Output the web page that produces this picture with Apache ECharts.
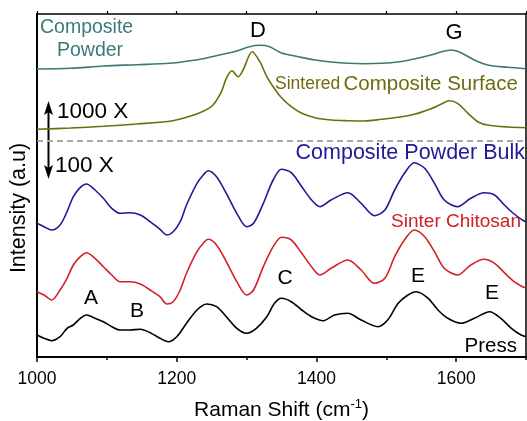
<!DOCTYPE html>
<html>
<head>
<meta charset="utf-8">
<script src="https://cdn.jsdelivr.net/npm/echarts@6/dist/echarts.min.js"></script>
<style>
  html, body { margin: 0; padding: 0; background: #fff; }
  #chart { width: 527px; height: 421px; }
</style>
</head>
<body>
<div id="chart"></div>
<script>
// tick values on the Raman shift axis
const xMajorTicks = [1000, 1200, 1400, 1600];
const xMinorTicks = [1100, 1300, 1500, 1700];

// spectra, [raman shift, intensity (offset, a.u.)]
const compositePowder = [
  [1000, 288], [1048, 288.7], [1095, 291], [1143, 292.3], [1190, 293.7], [1214, 295.7],
  [1238, 298.3], [1261, 302], [1286, 306], [1304, 310.3], [1319, 311.7], [1333, 310.3],
  [1350, 304], [1374, 300.3], [1398, 297], [1421, 295], [1445, 293.7], [1469, 293.3],
  [1493, 293.7], [1517, 295], [1540, 298], [1564, 302], [1579, 305.3], [1593, 307],
  [1607, 304.3], [1626, 297], [1645, 292], [1674, 289.7], [1700, 288.3]
];
const sinteredSurface = [
  [1000, 227.7], [1048, 229], [1095, 230.7], [1143, 233], [1190, 235.7], [1214, 239.7],
  [1238, 245.7], [1252, 252], [1264, 265.3], [1271, 278.7], [1279, 286.3], [1288, 280.3],
  [1295, 287], [1308, 305.3], [1319, 295.3], [1329, 280.3], [1338, 270.3], [1350, 259.3],
  [1364, 250.3], [1379, 243.7], [1398, 239.3], [1421, 237], [1445, 236.3], [1469, 236],
  [1493, 237.7], [1517, 239.7], [1540, 242.7], [1564, 248.3], [1579, 253], [1590, 256.3],
  [1602, 253.7], [1617, 243.7], [1631, 235.3], [1645, 232], [1674, 230], [1700, 229.3]
];
const powderBulk = [
  [1000, 133.7], [1010, 130.3], [1021, 127], [1033, 132], [1043, 145.3], [1052, 160.3],
  [1062, 169.7], [1071, 173], [1083, 167], [1095, 158.7], [1107, 148.7], [1119, 143.7],
  [1133, 144.3], [1148, 142], [1162, 135.3], [1176, 127.7], [1186, 122], [1195, 125.3],
  [1205, 135.3], [1214, 152], [1229, 173.7], [1238, 182], [1245, 186.3], [1257, 180.3],
  [1271, 163.7], [1286, 143.7], [1300, 130.3], [1310, 133.7], [1324, 153.7], [1338, 177],
  [1350, 187.7], [1364, 184.3], [1379, 170.3], [1393, 157], [1405, 150.3], [1421, 157],
  [1445, 164.3], [1464, 153.7], [1483, 141.3], [1498, 147], [1512, 167], [1526, 183.7],
  [1540, 194.3], [1555, 188.7], [1569, 173.7], [1583, 157], [1602, 150.3], [1621, 158.7],
  [1640, 164.3], [1655, 162], [1669, 152], [1683, 143], [1695, 137], [1700, 135]
];
const sinterChitosan = [
  [1000, 65.3], [1010, 62], [1021, 57], [1033, 67], [1043, 78.7], [1052, 92],
  [1062, 100.3], [1071, 104.3], [1083, 98.7], [1095, 90.3], [1107, 82], [1119, 75.3],
  [1133, 75.3], [1148, 73], [1162, 67], [1176, 60.3], [1186, 53], [1195, 55.3],
  [1205, 67], [1214, 83.7], [1229, 105.3], [1238, 113.7], [1245, 117.7], [1257, 112],
  [1271, 95.3], [1286, 75.3], [1300, 62], [1310, 67], [1324, 90.3], [1338, 110.3],
  [1350, 119.7], [1364, 117], [1379, 103.7], [1393, 90.3], [1405, 82], [1421, 88.7],
  [1445, 97], [1464, 87], [1483, 73.7], [1498, 78.7], [1512, 100.3], [1526, 117],
  [1540, 127], [1555, 120.3], [1569, 105.3], [1583, 88.7], [1602, 82], [1621, 92],
  [1640, 97.7], [1655, 93.7], [1669, 84.3], [1683, 75.3], [1695, 70.3], [1700, 69]
];
const press = [
  [1000, 22], [1010, 18.7], [1021, 16.3], [1033, 20.3], [1043, 28.7], [1052, 32],
  [1062, 38.7], [1071, 42], [1083, 38.7], [1095, 35.3], [1107, 30.3], [1119, 27],
  [1133, 27], [1148, 27.7], [1162, 24.3], [1176, 18.7], [1188, 15.3], [1200, 20.3],
  [1214, 33.7], [1229, 47], [1243, 53], [1257, 50.3], [1271, 40.3], [1286, 28.7],
  [1300, 23.7], [1314, 28.7], [1329, 40.3], [1340, 53.7], [1350, 58.7], [1364, 55.3],
  [1379, 47], [1393, 40.3], [1410, 36.3], [1426, 42], [1445, 43.7], [1464, 37],
  [1488, 30.3], [1502, 37], [1517, 53.7], [1531, 62], [1543, 65.3], [1560, 58.7],
  [1574, 47], [1588, 38.7], [1607, 33.7], [1626, 38.7], [1648, 45.3], [1664, 38.7],
  [1679, 28.7], [1693, 22], [1700, 20.3]
];
// level of the dashed divider between the 1000 X and 100 X parts
const dividerLevel = 216;

const FONT = '"Liberation Sans", Arial, sans-serif';

const spectrum = (name, data, color) => ({
  name,
  type: 'line',
  data,
  smooth: 0.3,
  symbol: 'none',
  silent: true,
  lineStyle: { color, width: 1.6 },
  z: 3,
});

const label = (text, x, y, size, color, align = 'center', rotation = 0) => ({
  type: 'text',
  x,
  y,
  rotation,
  silent: true,
  style: {
    text,
    fontSize: size,
    fontFamily: FONT,
    fill: color,
    align,
    verticalAlign: 'middle',
  },
});

const chart = echarts.init(document.getElementById('chart'), null, { renderer: 'canvas' });

const series = [
  spectrum('Composite Powder', compositePowder, '#3b7a78'),
  spectrum('Sintered Composite Surface', sinteredSurface, '#6d6d0f'),
  spectrum('Composite Powder Bulk', powderBulk, '#1f1a96'),
  spectrum('Sinter Chitosan', sinterChitosan, '#d22027'),
  spectrum('Press', press, '#000'),
];
series[0].markLine = {
  silent: true,
  symbol: 'none',
  label: { show: false },
  lineStyle: { color: '#8c8c8c', type: [6, 4], width: 1.5 },
  data: [{ yAxis: dividerLevel }],
};

chart.setOption({
  animation: false,
  backgroundColor: '#fff',
  grid: { left: 37, right: 1, top: 14, bottom: 64, outerBoundsMode: 'none', containLabel: false },
  xAxis: [
    {
      type: 'value',
      position: 'bottom',
      min: 1000,
      max: 1700,
      interval: 200,
      axisLine: { lineStyle: { color: '#000', width: 2 } },
      axisTick: { customValues: xMajorTicks, length: 5, lineStyle: { color: '#000', width: 1.5 } },
      axisLabel: {
        customValues: xMajorTicks,
        formatter: (v) => String(v),
        fontSize: 17.5,
        fontFamily: FONT,
        color: '#000',
        margin: 13,
      },
      splitLine: { show: false },
      name: 'Raman Shift (cm{sup|-1})',
      nameLocation: 'middle',
      nameGap: 41,
      nameTextStyle: {
        fontSize: 21,
        fontFamily: FONT,
        color: '#000',
        lineHeight: 24,
        rich: {
          sup: { fontSize: 13, fontFamily: FONT, color: '#000', verticalAlign: 'top', lineHeight: 13 },
        },
      },
    },
    {
      // minor ticks on the bottom axis
      type: 'value',
      position: 'bottom',
      gridIndex: 0,
      min: 1000,
      max: 1700,
      interval: 100,
      axisLine: { show: false },
      axisTick: { customValues: xMinorTicks, length: 3, lineStyle: { color: '#000', width: 1.5 } },
      axisLabel: { show: false },
      splitLine: { show: false },
    },
    {
      type: 'value',
      position: 'top',
      min: 1000,
      max: 1700,
      interval: 100,
      axisLine: { lineStyle: { color: '#000', width: 1.5 } },
      axisTick: { length: 3, lineStyle: { color: '#000', width: 1.2 } },
      axisLabel: { show: false },
      splitLine: { show: false },
    },
  ],
  yAxis: [
    {
      type: 'value',
      min: 0,
      max: 343,
      axisLine: { show: true, lineStyle: { color: '#000', width: 2 } },
      axisTick: { show: false },
      axisLabel: { show: false },
      splitLine: { show: false },
    },
    {
      type: 'value',
      position: 'right',
      min: 0,
      max: 343,
      axisLine: { show: true, lineStyle: { color: '#000', width: 1.5 } },
      axisTick: { show: false },
      axisLabel: { show: false },
      splitLine: { show: false },
    },
  ],
  series,
  graphic: [
    label('Intensity (a.u)', 19, 208, 21.5, '#000', 'center', Math.PI / 2),
    label('Composite', 40, 28, 19.5, '#3b7a78', 'left'),
    label('Powder', 57, 51, 19.5, '#3b7a78', 'left'),
    label('D', 258, 31, 22, '#000'),
    label('G', 454, 33, 22, '#000'),
    {
      type: 'text',
      x: 275,
      y: 84,
      silent: true,
      style: {
        text: '{s|Sintered} {b|Composite Surface}',
        align: 'left',
        verticalAlign: 'middle',
        rich: {
          s: { fontSize: 17.5, fontFamily: FONT, fill: '#6d6d0f' },
          b: { fontSize: 20.5, fontFamily: FONT, fill: '#6d6d0f' },
        },
      },
    },
    label('1000 X', 57, 112, 22.5, '#000', 'left'),
    label('100 X', 55, 166, 22.5, '#000', 'left'),
    label('Composite Powder Bulk', 525, 153, 21.5, '#1f1a96', 'right'),
    label('Sinter Chitosan', 521, 222, 19, '#d22027', 'right'),
    label('A', 91, 298, 21, '#000'),
    label('B', 137, 311, 21, '#000'),
    label('C', 285, 278, 21, '#000'),
    label('E', 418, 276, 21, '#000'),
    label('E', 492, 293, 21, '#000'),
    label('Press', 517, 346, 20.5, '#000', 'right'),
    // scale arrows
    { type: 'line', silent: true, shape: { x1: 48.5, y1: 140, x2: 48.5, y2: 110 }, style: { stroke: '#000', lineWidth: 2 } },
    { type: 'polygon', silent: true, shape: { points: [[48.5, 101], [44, 115], [48.5, 112], [53, 115]] }, style: { fill: '#000' } },
    { type: 'line', silent: true, shape: { x1: 48.5, y1: 142, x2: 48.5, y2: 170 }, style: { stroke: '#000', lineWidth: 2 } },
    { type: 'polygon', silent: true, shape: { points: [[48.5, 179], [44, 165], [48.5, 168], [53, 165]] }, style: { fill: '#000' } },
  ],
});
</script>
</body>
</html>
